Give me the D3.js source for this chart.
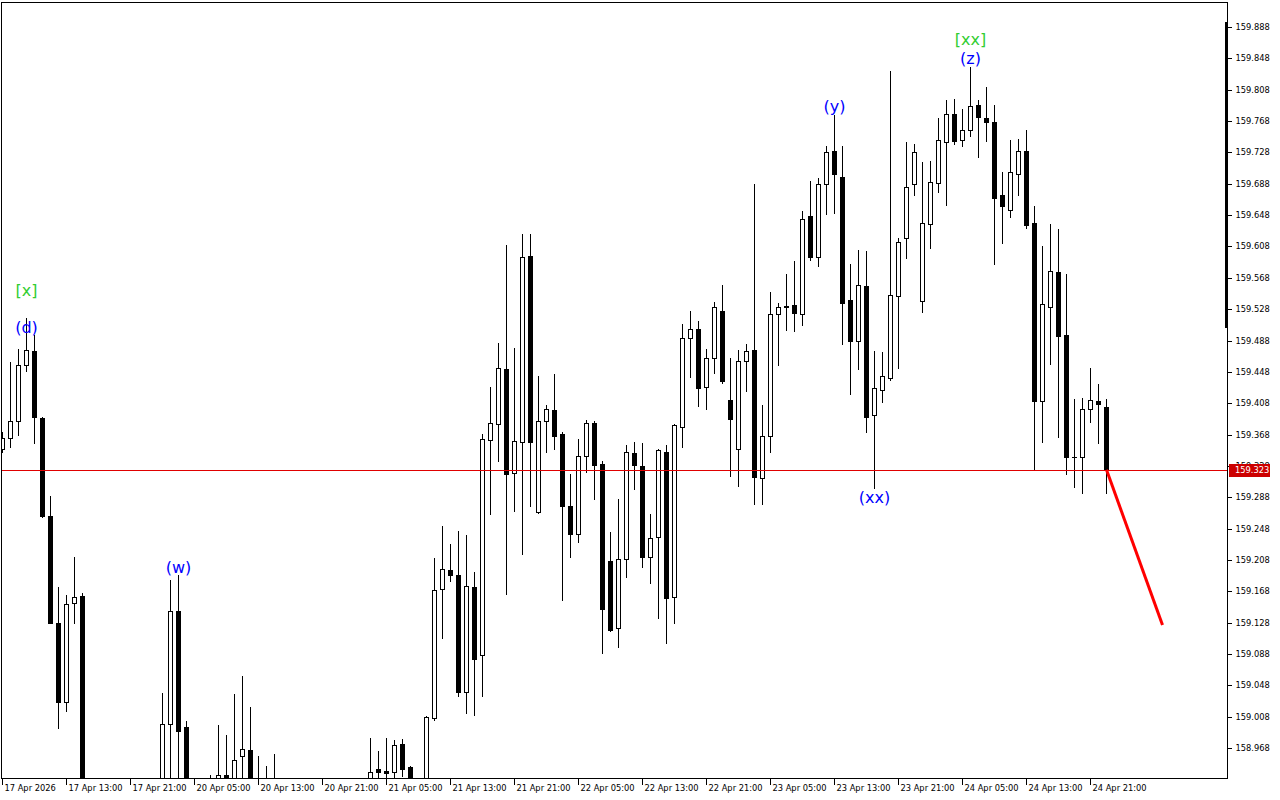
<!DOCTYPE html>
<html><head><meta charset="utf-8">
<script src="https://cdn.jsdelivr.net/npm/d3@7"></script>
<style>
html,body{margin:0;padding:0;background:#fff;}
svg{display:block;}
</style></head>
<body>
<svg id="c" width="1280" height="800"></svg>
<script>
const opens = [159.350,159.364,159.385,159.457,159.475,159.389,159.264,159.128,159.027,159.153,
159.162,158.895,158.870,158.890,158.875,158.845,158.860,158.885,158.870,158.890,
158.905,158.999,159.143,158.995,158.900,158.875,158.895,158.910,158.934,158.915,
158.958,158.966,158.915,158.905,158.895,158.880,158.865,158.850,158.870,158.860,
158.845,158.865,158.880,158.870,158.890,158.900,158.910,158.941,158.939,158.937,
158.973,158.944,158.900,158.915,159.006,159.171,159.195,159.189,159.040,159.173,
159.087,159.361,159.381,159.452,159.319,159.359,159.596,159.269,159.385,159.399,
159.369,159.277,159.241,159.341,159.383,159.330,159.207,159.121,159.209,159.344,
159.328,159.212,159.237,159.346,159.161,159.378,159.491,159.503,159.429,159.466,
159.526,159.412,159.350,159.462,159.476,159.313,159.366,159.522,159.532,159.533,
159.522,159.647,159.595,159.688,159.730,159.697,159.540,159.487,159.558,159.393,
159.425,159.440,159.545,159.619,159.688,159.538,159.637,159.689,159.741,159.777,
159.744,159.757,159.788,159.772,159.767,159.674,159.655,159.700,159.730,159.638,
159.411,159.531,159.575,159.495,159.339,159.339,159.401,159.411,159.403];
const highs = [159.371,159.461,159.477,159.517,159.495,159.390,159.290,159.173,159.163,159.212,
159.166,158.915,158.905,158.920,158.900,158.880,158.895,158.915,158.900,158.922,
159.038,159.182,159.189,159.003,158.925,158.915,158.934,158.997,158.985,159.037,
159.060,159.020,158.958,158.945,158.960,158.905,158.890,158.880,158.900,158.885,
158.875,158.895,158.910,158.900,158.915,158.925,158.981,158.964,158.981,158.978,
158.980,158.945,158.925,159.009,159.210,159.251,159.228,159.245,159.240,159.193,
159.369,159.429,159.485,159.610,159.478,159.624,159.624,159.443,159.406,159.445,
159.371,159.318,159.362,159.387,159.385,159.334,159.244,159.286,159.355,159.359,
159.357,159.267,159.350,159.355,159.382,159.509,159.526,159.513,159.477,159.537,
159.559,159.466,159.476,159.484,159.688,159.406,159.550,159.536,159.573,159.589,
159.653,159.692,159.695,159.736,159.776,159.736,159.586,159.603,159.602,159.475,
159.473,159.832,159.619,159.741,159.739,159.716,159.717,159.772,159.795,159.796,
159.783,159.837,159.795,159.811,159.788,159.703,159.744,159.745,159.757,159.660,
159.609,159.637,159.630,159.573,159.413,159.415,159.453,159.432,159.413];
const lows = [159.346,159.352,159.367,159.449,159.357,159.263,159.127,158.994,159.015,159.128,
158.880,158.850,158.835,158.860,158.830,158.815,158.840,158.860,158.845,158.870,
158.890,158.910,158.915,158.880,158.860,158.850,158.870,158.895,158.900,158.905,
158.920,158.900,158.890,158.880,158.870,158.850,158.835,158.820,158.845,158.830,
158.820,158.850,158.860,158.845,158.865,158.880,158.895,158.920,158.915,158.920,
158.932,158.885,158.870,158.905,159.004,159.108,159.181,159.034,159.013,159.010,
159.034,159.267,159.334,159.165,159.270,159.216,159.277,159.268,159.346,159.350,
159.157,159.212,159.231,159.320,159.286,159.089,159.117,159.097,159.186,159.299,
159.199,159.179,159.134,159.102,159.128,159.352,159.441,159.404,159.401,159.447,
159.434,159.315,159.302,159.424,159.279,159.279,159.346,159.457,159.501,159.500,
159.508,159.591,159.583,159.649,159.651,159.484,159.420,159.452,159.371,159.300,
159.410,159.438,159.453,159.593,159.674,159.524,159.606,159.677,159.661,159.739,
159.736,159.749,159.722,159.743,159.586,159.612,159.646,159.674,159.632,159.323,
159.359,159.458,159.365,159.318,159.301,159.293,159.384,159.357,159.293];
const closes = [159.364,159.385,159.457,159.476,159.390,159.264,159.128,159.027,159.152,159.161,
158.895,158.870,158.890,158.875,158.845,158.860,158.885,158.870,158.890,158.905,
158.999,159.143,158.990,158.900,158.875,158.895,158.910,158.934,158.915,158.953,
158.967,158.915,158.905,158.895,158.880,158.865,158.850,158.870,158.860,158.845,
158.865,158.880,158.870,158.890,158.900,158.910,158.937,158.937,158.936,158.972,
158.941,158.900,158.915,159.008,159.170,159.196,159.189,159.040,159.175,159.082,
159.362,159.383,159.453,159.318,159.360,159.595,159.359,159.385,159.401,159.366,
159.277,159.241,159.341,159.383,159.329,159.145,159.119,159.209,159.346,159.329,
159.212,159.236,159.348,159.159,159.380,159.491,159.503,159.427,159.466,159.531,
159.436,159.388,159.462,159.475,159.314,159.366,159.522,159.531,159.531,159.523,
159.643,159.595,159.688,159.729,159.700,159.536,159.487,159.559,159.390,159.427,
159.443,159.546,159.614,159.684,159.729,159.638,159.690,159.744,159.777,159.743,
159.757,159.787,159.773,159.767,159.670,159.660,159.703,159.730,159.635,159.411,
159.535,159.577,159.494,159.339,159.339,159.401,159.412,159.407,159.323];

const timeTickBars = [0,8,16,24,32,40,48,56,64,72,80,88,96,104,112,120,128,136];
const timeTickLabels = ["17 Apr 2026","17 Apr 13:00","17 Apr 21:00","20 Apr 05:00","20 Apr 13:00",
"20 Apr 21:00","21 Apr 05:00","21 Apr 13:00","21 Apr 21:00","22 Apr 05:00","22 Apr 13:00",
"22 Apr 21:00","23 Apr 05:00","23 Apr 13:00","23 Apr 21:00","24 Apr 05:00","24 Apr 13:00","24 Apr 21:00"];
const priceTicks = [158.968,159.008,159.048,159.088,159.128,159.168,159.208,159.248,159.288,159.328,
159.368,159.408,159.448,159.488,159.528,159.568,159.608,159.648,159.688,159.728,159.768,159.808,159.848,159.888];

const currentPrice = 159.323;
const forecastBars = [138, 145];
const forecastPrices = [159.323, 159.125];

const waveLabels = ["[x]","(d)","(w)","(y)","(xx)","[xx]","(z)"];
const waveBars = [3, 3, 22, 104, 109, 121, 121];
const wavePrices = [159.552, 159.505, 159.199, 159.787, 159.288, 159.873, 159.848];
const waveKinds = ["green","blue","blue","blue","blue","green","blue"];

const pL = 2, pR = 1227, pT = 2, pB = 778;
const svg = d3.select("#c");

const x = d3.scaleLinear().domain([0, 153]).range([2, 1226]);
const y = d3.scaleLinear().domain([158.968, 159.888]).range([748.1, 27]);
const px = i => Math.round(x(i));
const py = v => Math.round(y(v));

svg.append("defs").append("clipPath").attr("id","plot")
  .append("rect").attr("x", pL).attr("y", pT).attr("width", pR-pL).attr("height", pB-pT);

const bars = d3.range(opens.length).map(i => ({i, o:opens[i], h:highs[i], l:lows[i], c:closes[i]}));
const g = svg.append("g").attr("clip-path","url(#plot)");

// wicks
g.selectAll("line.wick").data(bars).join("line")
  .attr("class","wick")
  .attr("x1", d => px(d.i)+0.5).attr("x2", d => px(d.i)+0.5)
  .attr("y1", d => py(d.h)).attr("y2", d => py(d.l)+1)
  .attr("stroke","#000").attr("stroke-width",1).attr("shape-rendering","crispEdges");

// bodies
g.selectAll("rect.body").data(bars).join("rect")
  .attr("class","body")
  .attr("x", d => px(d.i)-1.5)
  .attr("width", 4)
  .attr("y", d => py(Math.max(d.o,d.c))+0.5)
  .attr("height", d => Math.max(0.001, py(Math.min(d.o,d.c)) - py(Math.max(d.o,d.c))))
  .attr("fill", d => d.c >= d.o ? "#fff" : "#000")
  .attr("stroke","#000").attr("stroke-width",1).attr("shape-rendering","crispEdges");

// current price line
g.append("line")
  .attr("x1", pL).attr("x2", pR)
  .attr("y1", py(currentPrice)+0.5).attr("y2", py(currentPrice)+0.5)
  .attr("stroke","#e00000").attr("stroke-width",1).attr("shape-rendering","crispEdges");

// forecast line
g.append("path")
  .datum(d3.zip(forecastBars, forecastPrices))
  .attr("d", d3.line().x(d => x(d[0])+0.5).y(d => y(d[1])))
  .attr("fill","none").attr("stroke","#ff0000").attr("stroke-width",3);

// wave labels
svg.append("g").selectAll("text").data(waveLabels).join("text")
  .attr("x", (d,k) => x(waveBars[k])+0.5)
  .attr("y", (d,k) => y(wavePrices[k]))
  .attr("dy","0.36em")
  .attr("text-anchor","middle")
  .attr("font-family","DejaVu Sans, sans-serif")
  .attr("font-size", 16)
  .attr("fill", (d,k) => waveKinds[k] === "green" ? "#32cd32" : "#0000ff")
  .text(d => d);

// right marker bar
svg.append("rect").attr("x", 1225).attr("y", 22).attr("width", 3).attr("height", 306).attr("fill","#000");

// frame
svg.append("rect").attr("x", pL-0.5).attr("y", pT+0.5).attr("width", pR-pL+1).attr("height", pB-pT)
  .attr("fill","none").attr("stroke","#000").attr("stroke-width",1).attr("shape-rendering","crispEdges");

// y axis
const yAxis = d3.axisRight(y).tickValues(priceTicks).tickSize(4).tickPadding(4).tickFormat(d3.format(".3f"));
const ya = svg.append("g").attr("transform", `translate(${pR+0.5},0)`).call(yAxis);
ya.select(".domain").remove();
ya.selectAll(".tick").attr("transform", d => `translate(0,${py(d)+0.5})`);
ya.selectAll("line").attr("shape-rendering","crispEdges");
ya.selectAll("text").attr("font-family","DejaVu Sans, sans-serif").attr("font-size", 8.3).attr("fill","#000");

// price label
svg.append("rect").attr("x", 1229).attr("y", py(currentPrice)-6).attr("width", 41).attr("height", 13).attr("fill","#cc0000");
svg.append("text").attr("x", 1235).attr("y", py(currentPrice)+0.5).attr("dy","0.35em")
  .attr("font-family","DejaVu Sans, sans-serif").attr("font-size", 8.3).attr("fill","#fff")
  .text(currentPrice.toFixed(3));

// x axis
const xAxis = d3.axisBottom(x).tickValues(timeTickBars).tickSize(6).tickFormat((d,k) => timeTickLabels[k]);
const xa = svg.append("g").attr("transform", `translate(0,${pB+0.5})`).call(xAxis);
xa.select(".domain").remove();
xa.selectAll(".tick").attr("transform", d => `translate(${px(d)+0.5},0)`);
xa.selectAll("line").attr("shape-rendering","crispEdges");
xa.selectAll("text").attr("text-anchor","start").attr("x", 2).attr("y", 7).attr("dy","0.71em")
  .attr("font-family","DejaVu Sans, sans-serif").attr("font-size", 8.3).attr("fill","#000");
</script>
</body></html>
